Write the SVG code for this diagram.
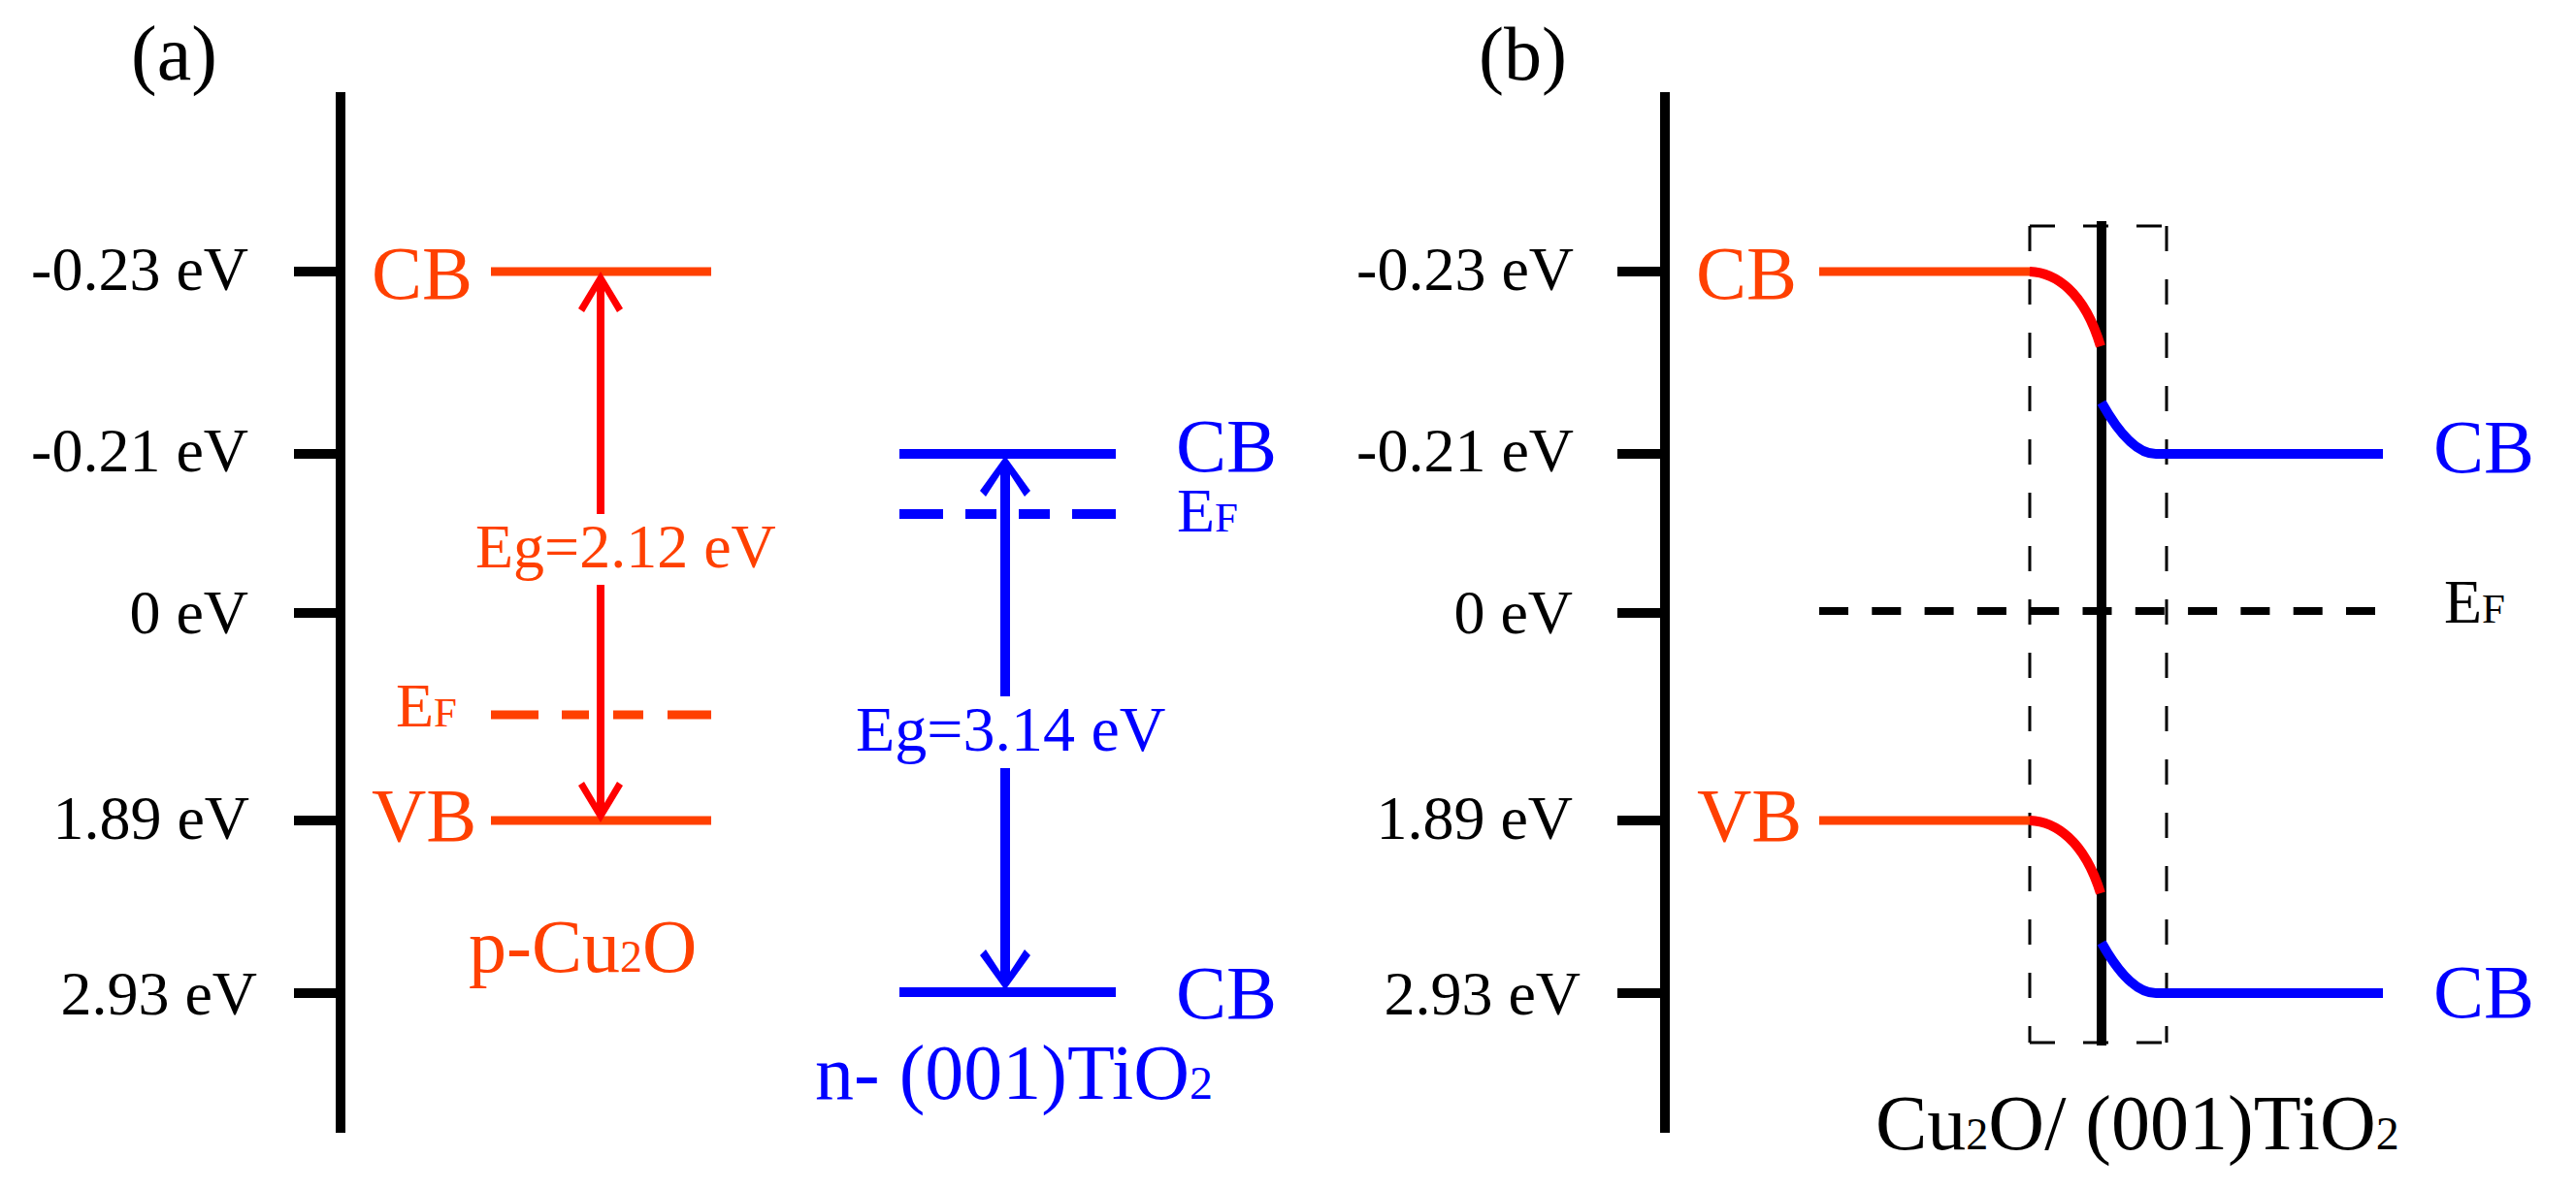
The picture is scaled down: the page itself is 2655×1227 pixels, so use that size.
<svg xmlns="http://www.w3.org/2000/svg" width="2655" height="1227" viewBox="0 0 2655 1227">
<style>
text{font-family:"Liberation Serif","Times New Roman",serif;}
.k{fill:#000;}
.o{fill:#FF4000;}
.b{fill:#0000FF;}
.tick{font-size:64px;text-anchor:end;}
.band{font-size:78px;}
.axis{stroke:#000;stroke-width:10;fill:none;}
.tk{stroke:#000;stroke-width:10;}
.lvO{stroke:#FF4000;stroke-width:9;fill:none;}
.lvB{stroke:#0000FF;stroke-width:10;fill:none;}
.curR{stroke:#FF0000;stroke-width:10;fill:none;}
.curB{stroke:#0000FF;stroke-width:10;fill:none;}
.dashO{stroke:#FF4000;stroke-width:9;}
.dashB{stroke:#0000FF;stroke-width:10;}
.dashK{stroke:#000;stroke-width:8;stroke-dasharray:30 24.3;}
.box{stroke:#000;stroke-width:3;stroke-dasharray:26 29;fill:none;}
</style>
<defs>
<path id="headR" d="M0,0 L23,38 L17,42 L4,20 L-4,20 L-17,42 L-23,38 Z" fill="#FF0000"/>
<path id="headB" d="M0,0 L26,36 L20,42 L5,19 L-5,19 L-20,42 L-26,36 Z" fill="#0000FF"/>
</defs>

<g id="panel-a-title"><text class="k" x="135" y="82" font-size="80">(a)</text></g>
<g id="panel-b-title"><text class="k" x="1524" y="82" font-size="78">(b)</text></g>

<g id="axis-a">
<line class="axis" x1="351" y1="95" x2="351" y2="1168"/>
<line class="tk" x1="303" y1="280" x2="351" y2="280"/>
<line class="tk" x1="303" y1="468" x2="351" y2="468"/>
<line class="tk" x1="303" y1="632" x2="351" y2="632"/>
<line class="tk" x1="303" y1="846" x2="351" y2="846"/>
<line class="tk" x1="303" y1="1024" x2="351" y2="1024"/>
<text class="k tick" x="256" y="299">-0.23 eV</text>
<text class="k tick" x="256" y="486">-0.21 eV</text>
<text class="k tick" x="256" y="653">0 eV</text>
<text class="k tick" x="257" y="865">1.89 eV</text>
<text class="k tick" x="265" y="1046">2.93 eV</text>
</g>

<g id="axis-b">
<line class="axis" x1="1716" y1="95" x2="1716" y2="1168"/>
<line class="tk" x1="1667" y1="280" x2="1716" y2="280"/>
<line class="tk" x1="1667" y1="468" x2="1716" y2="468"/>
<line class="tk" x1="1667" y1="632" x2="1716" y2="632"/>
<line class="tk" x1="1667" y1="846" x2="1716" y2="846"/>
<line class="tk" x1="1667" y1="1024" x2="1716" y2="1024"/>
<text class="k tick" x="1622" y="299">-0.23 eV</text>
<text class="k tick" x="1622" y="486">-0.21 eV</text>
<text class="k tick" x="1621" y="653">0 eV</text>
<text class="k tick" x="1621" y="865">1.89 eV</text>
<text class="k tick" x="1629" y="1046">2.93 eV</text>
</g>

<g id="cu2o-a">
<line class="lvO" x1="506" y1="280" x2="733" y2="280"/>
<line class="lvO" x1="506" y1="846" x2="733" y2="846"/>
<line class="dashO" x1="506" y1="737" x2="555" y2="737"/>
<line class="dashO" x1="579" y1="737" x2="607" y2="737"/>
<line class="dashO" x1="632" y1="737" x2="663" y2="737"/>
<line class="dashO" x1="688" y1="737" x2="733" y2="737"/>
<text class="o band" x="383" y="308">CB</text>
<text class="o band" x="383" y="867">VB</text>
<text class="o" x="408" y="749" font-size="64">E<tspan font-size="43">F</tspan></text>
<text class="o" x="490" y="585" font-size="64">Eg=2.12 eV</text>
<text class="o" x="483" y="1002" font-size="78">p-Cu<tspan font-size="46">2</tspan>O</text>
</g>

<g id="tio2-a">
<line class="lvB" x1="927" y1="468" x2="1150" y2="468"/>
<line class="lvB" x1="927" y1="1023" x2="1150" y2="1023"/>
<line class="dashB" x1="927" y1="530" x2="972" y2="530"/>
<line class="dashB" x1="995" y1="530" x2="1027" y2="530"/>
<line class="dashB" x1="1050" y1="530" x2="1082" y2="530"/>
<line class="dashB" x1="1105" y1="530" x2="1150" y2="530"/>
<text class="b band" x="1212" y="486">CB</text>
<text class="b" x="1213" y="548" font-size="64">E<tspan font-size="43">F</tspan></text>
<text class="b" x="882" y="774" font-size="66">Eg=3.14 eV</text>
<text class="b band" x="1212" y="1050">CB</text>
<text class="b" x="840" y="1133" font-size="80">n- (001)TiO<tspan font-size="48">2</tspan></text>
</g>

<g id="junction-b">
<line class="box" x1="2092" y1="233" x2="2234" y2="233"/>
<line class="box" x1="2092" y1="1075" x2="2234" y2="1075"/>
<line class="box" x1="2092" y1="233" x2="2092" y2="1075"/>
<line class="box" x1="2233" y1="233" x2="2233" y2="1075"/>
<line class="axis" x1="2166" y1="228" x2="2166" y2="1078"/>
<line class="dashK" x1="1875" y1="630" x2="2451" y2="630"/>
<line class="lvO" x1="1875" y1="280" x2="2094" y2="280"/>
<path class="curR" d="M2092,280 C2118,281 2148,300 2165,357"/>
<line class="lvO" x1="1875" y1="846" x2="2094" y2="846"/>
<path class="curR" d="M2092,846 C2118,847 2148,866 2165,921"/>
<path class="curB" d="M2166,415 C2180,440 2200,468 2222,468 L2456,468"/>
<path class="curB" d="M2166,972 C2180,997 2200,1024 2222,1024 L2456,1024"/>
<text class="o band" x="1748" y="308">CB</text>
<text class="o band" x="1749" y="867">VB</text>
<text class="b band" x="2508" y="487">CB</text>
<text class="b band" x="2508" y="1049">CB</text>
<text class="k" x="2519" y="642" font-size="64">E<tspan font-size="43">F</tspan></text>
<text class="k" x="1933" y="1185" font-size="80">Cu<tspan font-size="46">2</tspan>O/ (001)TiO<tspan font-size="48">2</tspan></text>
</g>

<g id="connectors">
<line stroke="#FF0000" stroke-width="8" x1="619" y1="298" x2="619" y2="530"/>
<use href="#headR" transform="translate(619,280)"/>
<line stroke="#FF0000" stroke-width="8" x1="619" y1="603" x2="619" y2="828"/>
<use href="#headR" transform="translate(619,848) rotate(180)"/>
<line stroke="#0000FF" stroke-width="10" x1="1036" y1="486" x2="1036" y2="718"/>
<use href="#headB" transform="translate(1036,470)"/>
<line stroke="#0000FF" stroke-width="10" x1="1036" y1="792" x2="1036" y2="1003"/>
<use href="#headB" transform="translate(1036,1021) rotate(180)"/>
</g>
</svg>
